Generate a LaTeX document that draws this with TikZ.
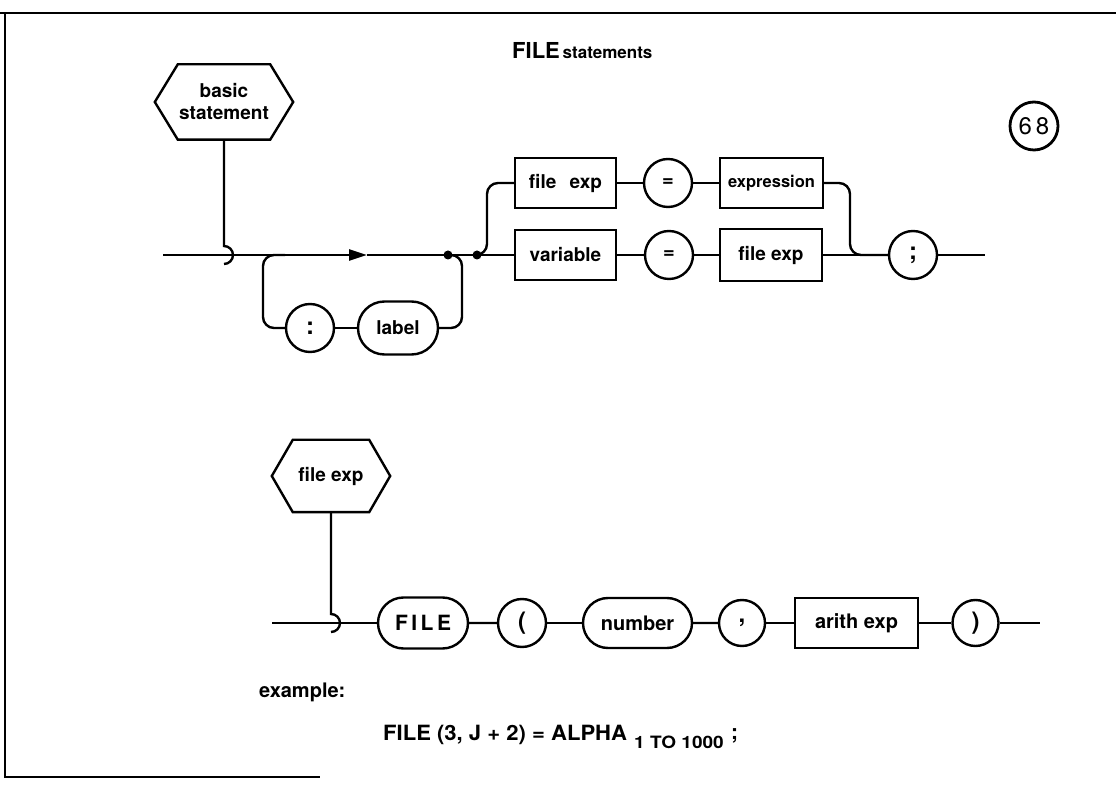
\documentclass[tikz,border=0pt]{standalone}
\usepackage{fontspec}
\setmainfont{TeX Gyre Heros}
\usetikzlibrary{shapes.misc,arrows.meta,calc}
\begin{document}
\begin{tikzpicture}[x=1pt,y=1pt,
  ln/.style={line width=2.4pt},
  rc/.style={ln, rounded corners=11pt},
  lbl/.style={font=\fontsize{19}{21}\selectfont\bfseries, inner sep=0pt},
  boxn/.style={lbl, draw, line width=2.4pt, rectangle, minimum height=50pt},
  circn/.style={lbl, draw, line width=2.4pt, circle, minimum size=48pt, font=\fontsize{24}{26}\selectfont\bfseries},
  stadn/.style={lbl, draw, line width=2.4pt, rounded rectangle, minimum height=51pt},
  hexn/.style={lbl, align=center, font=\fontsize{19}{22}\selectfont\bfseries},
  txt/.style={inner sep=0pt, font=\bfseries}
]
\useasboundingbox (0,0) rectangle (1116,785);
% frame
\draw[line width=2.6pt] (0,772) -- (1116,772);
\draw[line width=2.6pt] (5,772) -- (5,8) -- (320,8);

% title and page number
\node[txt, anchor=base west] (title) at (512,726)
  {{\fontsize{22}{24}\selectfont FILE} {\fontsize{17}{19}\selectfont statements}};
\node[draw, circle, line width=2.8pt, minimum size=48pt, inner sep=0pt,
  font=\fontsize{24}{26}\selectfont] (pg) at (1034,659) {6\,8};

% ---------- upper diagram ----------
\node[hexn, minimum width=138pt, minimum height=75pt] (bs) at (224,683) {basic\\statement};
\draw[ln] (bs.west) -- ($(bs.north west)+(23,0)$) -- ($(bs.north east)+(-23,0)$)
  -- (bs.east) -- ($(bs.south east)+(-23,0)$) -- ($(bs.south west)+(23,0)$) -- cycle;

\coordinate (s1) at (163,530);
\coordinate (j1) at (224,530);
\coordinate (a1) at (367,530);
\coordinate (d1) at (448,530);
\coordinate (d2) at (477,530);
\coordinate (e1) at (985,530);

\node[circn] (colon) at (310,457) {:};
\node[stadn, minimum width=80pt, minimum height=53pt] (lab) at (398,457) {label};

\node[boxn, minimum width=101pt] (fe1) at (565.5,602) {file\hspace{0.7em}exp};
\node[circn, font=\fontsize{20}{22}\selectfont\bfseries] (eq1) at (668,602) {=};
\node[boxn, minimum width=103pt, font=\fontsize{16.5}{18}\selectfont\bfseries] (expr) at (771.5,602) {expression};

\node[boxn, minimum width=101pt] (var) at (565.5,530) {variable};
\node[circn, font=\fontsize{20}{22}\selectfont\bfseries] (eq2) at (669,530) {=};
\node[boxn, minimum width=102pt, minimum height=52pt] (fe2) at (771,530) {file exp};
\node[circn] (semi) at (913,530) {;};

\draw[ln] (bs.south) -- ($(j1)+(0,9)$) arc[start angle=90, end angle=-90, radius=9pt];
\draw[ln, -{Triangle[length=18pt,width=11pt]}] (s1) -- (a1);
\draw[ln] (a1) -- (var.west);
\fill (d1) circle (4.5pt);
\fill (d2) circle (4.5pt);

% optional label loop
\coordinate (lb1) at (285,530);
\coordinate (lb2) at (263,530);
\coordinate (lb3) at (263,457);
\coordinate (lb4) at (462,457);
\coordinate (lb5) at (462,530);
\draw[rc] (lb1) -- (lb2) -- (lb3) -- (colon.west);
\draw[ln] (colon) -- (lab);
\draw[rc] (lab.east) -- (lb4) -- (lb5) -- (d1);

% upper alternative
\coordinate (ub1) at (487,530);
\coordinate (ub2) at (487,602);
\coordinate (ub3) at (850,602);
\coordinate (ub4) at (850,530);
\draw[rc] (d2) -- (ub1) -- (ub2) -- (fe1.west);
\draw[ln] (fe1) -- (eq1);
\draw[ln] (eq1) -- (expr);
\draw[rc] (expr.east) -- (ub3) -- (ub4) -- (semi.west);

\draw[ln] (var) -- (eq2);
\draw[ln] (eq2) -- (fe2);
\draw[ln] (fe2) -- (semi);
\draw[ln] (semi) -- (e1);

% ---------- lower diagram ----------
\node[hexn, minimum width=118pt, minimum height=72pt] (fx) at (331,309) {file exp};
\draw[ln] (fx.west) -- ($(fx.north west)+(21,0)$) -- ($(fx.north east)+(-21,0)$)
  -- (fx.east) -- ($(fx.south east)+(-21,0)$) -- ($(fx.south west)+(21,0)$) -- cycle;

\coordinate (s2) at (272,162);
\coordinate (j2) at (331,162);
\coordinate (e2) at (1040,162);

\node[stadn, minimum width=90pt, font=\fontsize{21}{23}\selectfont\bfseries] (FILE) at (423,162) {F\,I\,L\,E};
\node[circn] (lp) at (522,162) {(};
\node[stadn, minimum width=109pt, minimum height=50pt, font=\fontsize{20}{22}\selectfont\bfseries] (num) at (637.5,162) {number};
\node[circn, minimum size=46pt] (comma) at (742,162) {,};
\node[boxn, minimum width=123pt, font=\fontsize{20}{22}\selectfont\bfseries] (arith) at (856.5,162) {arith exp};
\node[circn, minimum size=46pt] (rp) at (975.5,162) {)};

\draw[ln] (fx.south) -- ($(j2)+(0,9)$) arc[start angle=90, end angle=-90, radius=9pt];
\draw[ln] (s2) -- (FILE);
\draw[ln] (FILE) -- (lp);
\draw[ln] (lp) -- (num);
\draw[ln] (num) -- (comma);
\draw[ln] (comma) -- (arith);
\draw[ln] (arith) -- (rp);
\draw[ln] (rp) -- (e2);

% ---------- example ----------
\node[txt, anchor=base west, font=\fontsize{20}{22}\selectfont\bfseries] (ex) at (259,88) {example:};
\node[txt, anchor=base west, font=\fontsize{21}{23}\selectfont\bfseries] (code) at (383,45)
  {\scalebox{1.05}[1]{FILE (3, J + 2) = ALPHA}};
\node[txt, anchor=base west, font=\fontsize{17}{19}\selectfont\bfseries] (sub) at (634,37)
  {\scalebox{1.12}[1]{1 TO 1000}};
\node[txt, anchor=base west, font=\fontsize{21}{23}\selectfont\bfseries] (sc) at (731,46) {;};
\end{tikzpicture}
\end{document}
